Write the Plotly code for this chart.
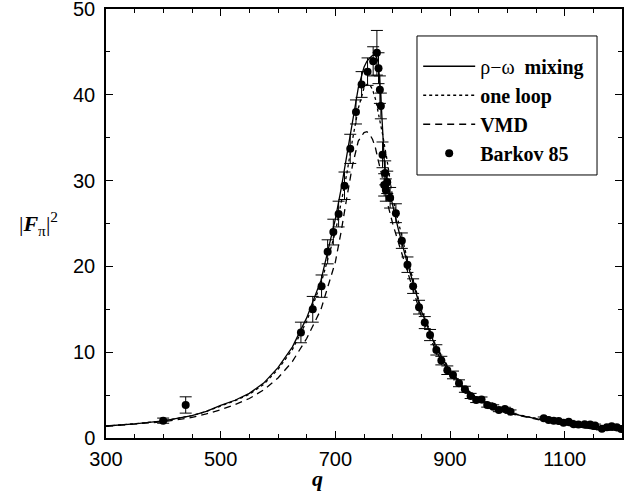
import plotly.graph_objects as go

# ---- theory curves ----
q_curve = [300, 350, 400, 450, 475, 500, 525, 550, 575, 600, 625, 650, 675, 700, 710, 720, 730, 740, 750,
           755, 760, 765, 770, 775, 780, 783, 786, 790, 800, 810, 825, 850, 875, 900, 925,
           950, 975, 1000, 1050, 1100, 1150, 1200]
rho_omega = [1.4, 1.65, 2.0, 2.6, 3.1, 3.8, 4.4, 5.2, 6.4, 8.2, 10.6, 14.0, 18.4, 25.5, 29.0, 32.8, 37.0, 40.8, 43.2,
             43.9, 44.3, 44.6, 44.6, 43.8, 39.0, 34.5, 31.5, 30.0, 27.0, 24.3, 20.5, 14.8, 10.6, 7.8, 5.8,
             4.5, 3.6, 2.95, 2.25, 1.55, 1.05, 0.85]
one_loop = [1.4, 1.65, 2.0, 2.6, 3.1, 3.75, 4.35, 5.1, 6.25, 8.0, 10.3, 13.6, 18.0, 24.0, 27.2, 30.8, 34.8, 38.4, 40.8,
            41.2, 41.2, 40.6, 39.5, 38.0, 36.5, 35.2, 34.0, 32.5, 28.0, 25.2, 21.0, 15.0, 10.8, 7.9, 5.9,
            4.55, 3.65, 3.0, 2.25, 1.58, 1.08, 0.86]
vmd = [1.35, 1.6, 1.9, 2.4, 2.8, 3.3, 3.9, 4.6, 5.6, 7.0, 8.9, 11.6, 15.0, 20.5, 24.0, 28.0, 31.8, 34.6, 35.6,
       35.7, 35.4, 34.8, 33.8, 32.3, 30.8, 30.0, 29.3, 27.6, 25.0, 22.8, 19.5, 14.2, 10.2, 7.5, 5.6,
       4.35, 3.5, 2.9, 2.2, 1.52, 1.05, 0.82]

# ---- Barkov 85 data ----
q_data = [399.7, 439, 640, 660.6, 676, 686.6, 696.5, 705.7, 716, 726, 736, 745.8, 756.2, 766,
          772.5, 775.3, 777.7, 779.4, 782.3, 785.2, 787, 788.1, 790.5, 795.6, 805.6, 816, 825.8,
          835.7, 846, 856, 865.2, 876.2, 884.9, 895.3, 905.2, 915.7, 926, 936, 945.7, 955, 964.9,
          975.4, 985.2, 995.7, 1005.6, 1063.5, 1072, 1080.9, 1089.6, 1098, 1107, 1115.7, 1124,
          1134.8, 1144.6, 1153, 1165, 1173.6, 1182, 1191, 1198.6]
f_data = [2.02, 3.85, 12.3, 15.0, 17.7, 21.7, 24.0, 26.1, 29.4, 33.7, 38.0, 41.2, 42.7, 43.9,
          44.9, 43.1, 40.6, 38.7, 33.0, 29.5, 30.9, 28.9, 29.8, 28.0, 26.2, 23.0, 20.2,
          17.7, 15.25, 13.45, 12.0, 10.27, 9.02, 7.9, 7.35, 6.38, 5.68, 4.9, 4.43, 4.5, 3.85,
          3.65, 3.27, 3.38, 3.07, 2.3, 2.1, 2.0, 1.97, 1.79, 1.9, 1.6, 1.56,
          1.6, 1.56, 1.47, 1.09, 1.25, 1.36, 1.25, 1.05]
f_err = [0.3, 0.95, 1.2, 1.5, 1.3, 1.4, 1.5, 1.5, 1.6, 1.7, 1.4, 1.5, 1.6, 1.7,
         2.6, 1.8, 1.6, 1.5, 1.5, 1.3, 1.4, 1.3, 1.3, 1.2, 1.1, 0.9, 0.9,
         0.85, 0.8, 0.7, 0.65, 0.6, 0.5, 0.5, 0.45, 0.4, 0.35, 0.3, 0.3, 0.28, 0.25,
         0.22, 0.2, 0.2, 0.2, 0.15, 0.15, 0.15, 0.15, 0.15, 0.15, 0.15, 0.15,
         0.15, 0.15, 0.15, 0.15, 0.15, 0.15, 0.15, 0.15]

x_ticks = [300, 500, 700, 900, 1100]
y_ticks = [0, 10, 20, 30, 40, 50]

LEG_FONT = dict(family="Liberation Serif, Times New Roman, serif", size=20, color="black")

fig = go.Figure()
fig.add_trace(go.Scatter(x=q_curve, y=rho_omega, mode="lines", name="ρ−ω&nbsp; <b>mixing</b>",
                         line=dict(color="black", width=1.3), legendgroup="a"))
fig.add_trace(go.Scatter(x=q_curve, y=one_loop, mode="lines", name="<b>one loop</b>",
                         line=dict(color="black", width=1.3, dash="dot"), legendgroup="b"))
fig.add_trace(go.Scatter(x=q_curve, y=vmd, mode="lines", name="<b>VMD</b>",
                         line=dict(color="black", width=1.3, dash="7px,5px"), legendgroup="c"))
fig.add_trace(go.Scatter(x=q_data, y=f_data, mode="markers", name="<b>Barkov 85</b>",
                         marker=dict(color="black", size=8),
                         error_y=dict(type="data", array=f_err, visible=True, color="black",
                                      thickness=1, width=6),
                         legendgroup="d"))

axis_common = dict(showline=True, linecolor="black", linewidth=1.5, mirror="allticks",
                   ticks="inside", ticklen=7, tickwidth=1, tickcolor="black",
                   showgrid=False, zeroline=False, automargin=False, ticklabeloverflow="allow",
                   tickfont=dict(family="Liberation Sans, Arial, sans-serif", size=20, color="black"))

fig.update_xaxes(range=[300, 1200], tickvals=x_ticks, ticktext=[str(v) for v in x_ticks],
                 minor=dict(dtick=50, tick0=300, ticks="inside", ticklen=4, tickcolor="black", showgrid=False),
                 ticklabelstandoff=2, **axis_common)
fig.update_yaxes(range=[0, 50], tickvals=y_ticks, ticktext=[str(v) for v in y_ticks],
                 minor=dict(dtick=5, tick0=0, ticks="inside", ticklen=4, tickcolor="black", showgrid=False),
                 ticklabelstandoff=5, **axis_common)

fig.update_layout(
    width=643, height=495,
    margin=dict(l=106, r=21, t=9, b=57, autoexpand=False),
    plot_bgcolor="white", paper_bgcolor="white",
    showlegend=True,
    legend=dict(x=0.605, y=0.912, xanchor="left", yanchor="top",
                bgcolor="rgba(0,0,0,0)", borderwidth=0, font=LEG_FONT,
                traceorder="grouped", tracegroupgap=0, itemwidth=52),
    shapes=[dict(type="rect", xref="paper", yref="paper", x0=0.6027, x1=0.9516, y0=0.6131, y1=0.9371,
                 line=dict(color="black", width=1), fillcolor="rgba(0,0,0,0)")],
    annotations=[
        dict(text="<span style='color:black'>|<b><i>F</i></b><sub>π</sub>|<sup>2</sup></span>",
             xref="paper", yref="paper",
             x=-0.09, y=0.5, xanchor="right", yanchor="middle", showarrow=False,
             font=dict(family="Liberation Serif, Times New Roman, serif", size=22, color="black")),
        dict(text="<b><i>q</i></b>", xref="paper", yref="paper", x=0.41, y=-0.06,
             xanchor="center", yanchor="top", showarrow=False,
             font=dict(family="Liberation Serif, Times New Roman, serif", size=22, color="black")),
    ],
)

fig.write_html("out.html", config={"displayModeBar": False},
               post_script="document.body.style.margin='0px';")
